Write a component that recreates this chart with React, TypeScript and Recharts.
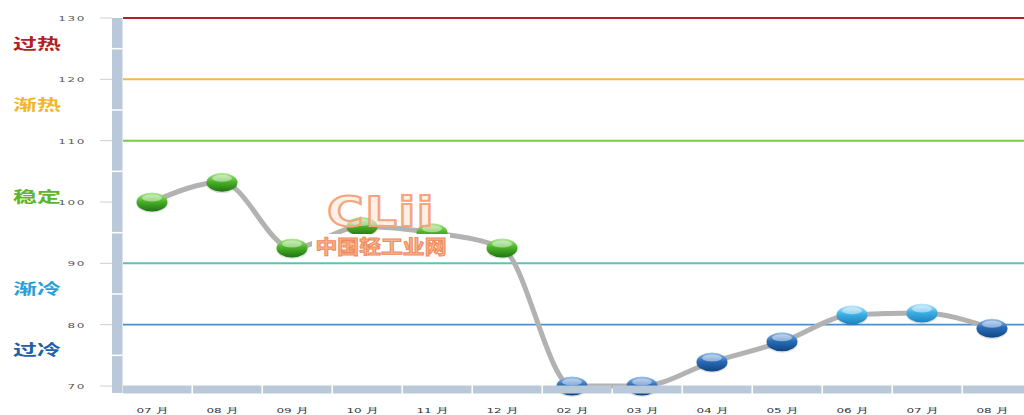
import { ComposedChart, Line, XAxis, YAxis, ReferenceLine } from "recharts";

const months = ["07 月", "08 月", "09 月", "10 月", "11 月", "12 月", "02 月", "03 月", "04 月", "05 月", "06 月", "07 月", "08 月"];
const values = [100, 103.2, 92.5, 96, 95, 92.5, 70, 70, 73.9, 77.2, 81.6, 81.9, 79.4];

const yTicks = [70, 75, 80, 85, 90, 95, 100, 105, 110, 115, 120, 125, 130];

// horizontal level lines
const levels = [
  { value: 130, color: "#b0202a", width: 2 },
  { value: 120, color: "#f4b942", width: 2 },
  { value: 110, color: "#78cb45", width: 2 },
  { value: 90, color: "#5cc3b3", width: 2 },
  { value: 80, color: "#4a8fd0", width: 1.6 },
];

// zone names on the left
const zones = [
  { name: "过热", value: 126, color: "#b31e22" },
  { name: "渐热", value: 116, color: "#f2b52c" },
  { name: "稳定", value: 101, color: "#5bb530" },
  { name: "渐冷", value: 86, color: "#2b9fd9" },
  { name: "过冷", value: 76, color: "#1f5fa6" },
];

const data = months.map((m, i) => ({ month: m, value: values[i] }));

const W = 1030;
const H = 415;
const TOP = 18;
const BOTTOM = 29;
const PPU = (H - TOP - BOTTOM) / 60;
const SX = 1.6;

function markerFill(v: number) {
  if (v >= 90) return "url(#gGreen)";
  if (v >= 80) return "url(#gLight)";
  return "url(#gDark)";
}

const Dot = (props: any) => {
  const { cx, cy, payload, index } = props;
  if (cx == null || cy == null) return null;
  return (
    <g key={`d${index}`}>
      <ellipse cx={cx} cy={cy + 1.5} rx={15.5} ry={9.5} fill="rgba(0,0,0,0.12)" />
      <ellipse cx={cx} cy={cy} rx={15.5} ry={9.5} fill={markerFill(payload.value)} />
      <ellipse cx={cx} cy={cy - 4} rx={10} ry={3.5} fill="rgba(255,255,255,0.45)" />
    </g>
  );
};

const YTick = (props: any) => {
  const { y, payload } = props;
  const v = payload.value;
  const wall =
    v === 130 ? (
      <g>
        <rect x={112} y={y} width={10.5} height={60 * PPU + 7} fill="#b9c9d9" />
        {[75, 85, 95, 105, 115, 125].map((g) => (
          <line key={g} x1={112} x2={122.5} y1={y + (130 - g) * PPU} y2={y + (130 - g) * PPU} stroke="#fff" strokeWidth={1.5} />
        ))}
      </g>
    ) : null;
  if (v % 10 !== 0) return wall;
  return (
    <g>
      {wall}
      <line x1={100} x2={112} y1={y} y2={y} stroke="#cfcfcf" strokeWidth={1} />
      <text
        transform={`translate(86,${y + 3}) scale(${SX},1)`}
        textAnchor="end"
        fontSize={7.5}
        fill="#555"
        fontFamily="DejaVu Sans, sans-serif"
        letterSpacing={1}
      >
        {v}
      </text>
    </g>
  );
};

const XTick = (props: any) => {
  const { x, y, payload } = props;
  return (
    <g>
      <rect x={x - 29} y={y - 0.5} width={68.5} height={8} fill="#b9c9d9" />
      <text
        transform={`translate(${x},${y + 27}) scale(${SX},1)`}
        textAnchor="middle"
        fontSize={7.5}
        fill="#333"
        fontFamily="DejaVu Sans, sans-serif"
      >
        {payload.value}
      </text>
    </g>
  );
};

const LevelShape = (color: string, width: number) => (props: any) => {
  const { x1, x2, y1 } = props;
  return <line x1={x1 + 6} x2={x2} y1={y1} y2={y1} stroke={color} strokeWidth={width} />;
};

const ZoneLabel = (name: string, color: string) => (props: any) => {
  const y = props.viewBox?.y ?? 0;
  return (
    <text
      transform={`translate(13,${y + 6}) scale(${SX},1)`}
      fontSize={15}
      fontWeight="bold"
      fill={color}
      fontFamily="Noto Sans CJK SC, sans-serif"
    >
      {name}
    </text>
  );
};

export default function App() {
  return (
    <div style={{ position: "absolute", left: 0, top: 0, width: 1024, height: H, overflow: "hidden", background: "#fff" }}>
      <ComposedChart width={W} height={H} data={data} margin={{ top: TOP, right: 3, bottom: 0, left: 0 }}>
        <defs>
          <linearGradient id="gGreen" x1="0" y1="0" x2="0" y2="1">
            <stop offset="0%" stopColor="#b4ec95" />
            <stop offset="45%" stopColor="#4db52a" />
            <stop offset="100%" stopColor="#1e7410" />
          </linearGradient>
          <linearGradient id="gLight" x1="0" y1="0" x2="0" y2="1">
            <stop offset="0%" stopColor="#c2ebfb" />
            <stop offset="45%" stopColor="#3fb1e6" />
            <stop offset="100%" stopColor="#1a83c0" />
          </linearGradient>
          <linearGradient id="gDark" x1="0" y1="0" x2="0" y2="1">
            <stop offset="0%" stopColor="#9ec3ea" />
            <stop offset="45%" stopColor="#2a6db6" />
            <stop offset="100%" stopColor="#0d4585" />
          </linearGradient>
        </defs>
        <XAxis
          dataKey="month"
          padding={{ left: 35, right: 35 }}
          height={BOTTOM}
          axisLine={false}
          tickLine={false}
          tickSize={0}
          tickMargin={0}
          interval={0}
          tick={<XTick />}
        />
        <YAxis
          type="number"
          domain={[70, 130]}
          ticks={yTicks}
          interval={0}
          width={117}
          axisLine={false}
          tickLine={false}
          tick={<YTick />}
        />
        {levels.map((l) => (
          <ReferenceLine key={l.value} y={l.value} ifOverflow="visible" shape={LevelShape(l.color, l.width)} />
        ))}
        {zones.map((z) => (
          <ReferenceLine
            key={z.name}
            y={z.value}
            stroke="none"
            ifOverflow="visible"
            label={{ content: ZoneLabel(z.name, z.color) }}
          />
        ))}
        <Line
          type="monotone"
          dataKey="value"
          stroke="#b2b2b2"
          strokeWidth={5}
          dot={<Dot />}
          activeDot={false}
          isAnimationActive={false}
        />
      </ComposedChart>
      <div style={{ position: "absolute", left: 311, top: 190, width: 140, textAlign: "center", pointerEvents: "none" }}>
        <div
          style={{
            fontFamily: "DejaVu Sans, sans-serif",
            fontWeight: "bold",
            fontSize: 40,
            lineHeight: "44px",
            color: "rgba(253,230,216,0.6)",
            WebkitTextStroke: "2px #f4a57e",
            transform: "scaleX(1.25)",
            letterSpacing: 1,
          }}
        >
          CLii
        </div>
        <div
          style={{
            display: "inline-block",
            background: "#fff",
            padding: "0 3px",
            fontFamily: "Noto Sans CJK SC, sans-serif",
            fontWeight: "bold",
            fontSize: 19,
            lineHeight: "24px",
            color: "#f7b593",
            WebkitTextStroke: "1px #f08b5e",
            transform: "scaleX(1.15)",
          }}
        >
          中国轻工业网
        </div>
      </div>
    </div>
  );
}
